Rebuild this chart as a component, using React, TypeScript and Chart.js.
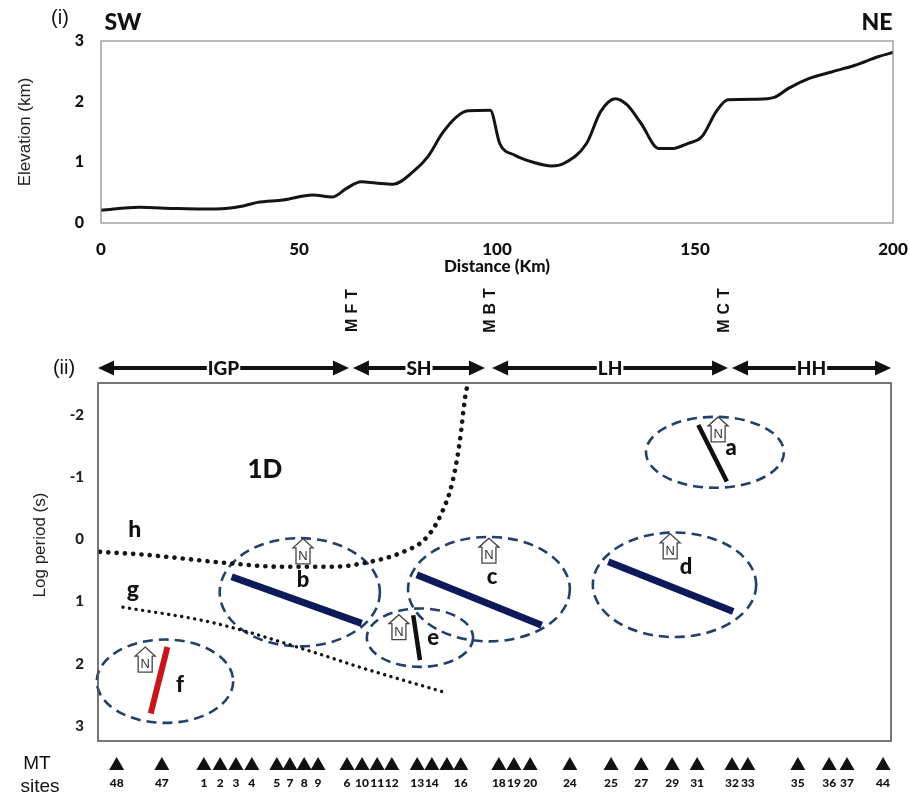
import React, { useEffect, useRef } from "react";
import { Chart, registerables } from "chart.js";
Chart.register(...registerables);

// ---------- (i) elevation profile ----------
const distanceKm = [0, 9.6, 18.4, 25.7, 31.5, 35.9, 39.5, 46, 53.4, 58.5, 62, 65.7, 69.4, 73.8, 78.9, 82.5, 86.2, 89.8, 92.7, 98.3, 100.7, 104.4, 108.7, 113.8, 116.8, 122.6, 126.2, 129.9, 132.8, 136.4, 140.8, 144.5, 148.1, 151.7, 155.4, 158.3, 165.6, 170, 173.6, 178.7, 184.5, 190.4, 196.2, 200];
const elevationKm = [0.21, 0.26, 0.24, 0.23, 0.24, 0.28, 0.34, 0.38, 0.46, 0.43, 0.57, 0.68, 0.66, 0.64, 0.85, 1.09, 1.48, 1.75, 1.85, 1.86, 1.31, 1.12, 1.01, 0.94, 0.98, 1.31, 1.84, 2.05, 1.95, 1.64, 1.23, 1.23, 1.31, 1.42, 1.84, 2.03, 2.04, 2.07, 2.22, 2.38, 2.49, 2.6, 2.74, 2.81];
const distanceTicks = [0, 50, 100, 150, 200];
const elevationTicks = [0, 1, 2, 3];

// ---------- (ii) log period section ----------
const periodTicks = [-2, -1, 0, 1, 2, 3];
const hCurveX = [0.5, 12.4, 32.5, 45.9, 59.3, 68.6, 76.2, 83.0, 87.0, 89.5, 91.3, 92.6, 93.3];
const hCurveY = [0.2, 0.25, 0.38, 0.44, 0.44, 0.36, 0.22, -0.04, -0.47, -0.95, -1.6, -2.29, -2.51];
const gCurveX = [6.3, 29.0, 54.2, 66.8, 87.0];
const gCurveY = [1.09, 1.34, 1.81, 2.07, 2.45];

const faultNames = ["MFT", "MBT", "MCT"];
const faultKm = [64.1, 98.9, 158.1];
const zoneNames = ["IGP", "SH", "LH", "HH"];
const zoneStartKm = [0, 64.3, 99.4, 159.9];
const zoneEndKm = [63.3, 97.6, 158.9, 200];

const ellipseIds = ["a", "b", "c", "d", "e", "f"];
const ellipseCx = [155.6, 50.9, 98.6, 145.4, 81.2, 16.9];
const ellipseCy = [-1.4, 0.85, 0.8, 0.73, 1.58, 2.28];
const ellipseRx = [17.4, 20.2, 20.4, 20.6, 13.4, 17.2];
const ellipseRy = [0.57, 0.87, 0.84, 0.84, 0.47, 0.67];

const strikeX1 = [151.4, 33.7, 80.4, 128.7, 79.5, 17.5];
const strikeY1 = [-1.84, 0.6, 0.57, 0.36, 1.22, 1.73];
const strikeX2 = [158.6, 66.5, 111.9, 160.2, 81.2, 13.3];
const strikeY2 = [-0.93, 1.35, 1.38, 1.16, 1.94, 2.8];

const northX = [156.4, 51.7, 98.6, 144.3, 75.9, 11.9];
const northY = [-1.76, 0.2, 0.19, 0.12, 1.42, 1.94];
const letterX = [159.7, 51.7, 99.4, 148.3, 84.5, 20.7];
const letterY = [-1.47, 0.65, 0.6, 0.44, 1.59, 2.34];

const regionText = ["1D", "h", "g"];
const regionX = [42.1, 9.3, 8.8];
const regionY = [-1.12, -0.15, 0.81];

const siteNames = ["48", "47", "1", "2", "3", "4", "5", "7", "8", "9", "6", "10", "11", "12", "13", "14", "", "16", "18", "19", "20", "24", "25", "27", "29", "31", "32", "33", "35", "36", "37", "44"];
const siteKm = [4.7, 16.1, 26.7, 30.8, 34.8, 38.8, 45.1, 48.4, 52.0, 55.5, 62.8, 66.6, 70.4, 74.1, 80.5, 84.2, 88.0, 91.5, 101.1, 104.9, 109.0, 119.0, 129.4, 137.0, 144.8, 151.1, 159.9, 163.9, 176.5, 184.4, 188.9, 198.0];

// styles (not data)
const strikeColors = ["#111111", "#0c1a5a", "#0c1a5a", "#0c1a5a", "#111111", "#c8161d"];
const strikeWidths = [4.5, 7, 7, 7, 4.5, 6];
const BOLD = "Lato, 'DejaVu Sans', sans-serif";
const SANS = "'Liberation Sans', Arial, sans-serif";
const HEAVY = "900";

const topDecor = {
  id: "topDecor",
  afterDraw(chart: any) {
    const { ctx, chartArea } = chart;
    ctx.save();
    ctx.strokeStyle = "#8a8a8a";
    ctx.lineWidth = 1.2;
    ctx.strokeRect(chartArea.left, chartArea.top, chartArea.right - chartArea.left, chartArea.bottom - chartArea.top);
    ctx.fillStyle = "#111";
    ctx.textAlign = "center";
    ctx.textBaseline = "middle";
    ctx.font = `20px ${SANS}`;
    ctx.fillText("(i)", 60, 18);
    ctx.font = `${HEAVY} 23px ${BOLD}`;
    ctx.fillText("SW", 123, 23);
    ctx.fillText("NE", 877, 23);
    ctx.restore();
  },
};

function drawNorth(ctx: CanvasRenderingContext2D, cx: number, cy: number) {
  ctx.save();
  ctx.fillStyle = "#fff";
  ctx.strokeStyle = "#444";
  ctx.lineWidth = 1.3;
  ctx.beginPath();
  ctx.moveTo(cx, cy - 13);
  ctx.lineTo(cx + 10, cy - 4);
  ctx.lineTo(cx + 7, cy - 4);
  ctx.lineTo(cx + 7, cy + 12);
  ctx.lineTo(cx - 7, cy + 12);
  ctx.lineTo(cx - 7, cy - 4);
  ctx.lineTo(cx - 10, cy - 4);
  ctx.closePath();
  ctx.fill();
  ctx.stroke();
  ctx.fillStyle = "#333";
  ctx.font = `13px ${SANS}`;
  ctx.textAlign = "center";
  ctx.textBaseline = "middle";
  ctx.fillText("N", cx, cy + 4.5);
  ctx.restore();
}

function drawHead(ctx: CanvasRenderingContext2D, tipX: number, y: number, dir: number) {
  ctx.beginPath();
  ctx.moveTo(tipX, y);
  ctx.lineTo(tipX - dir * 16, y - 7.5);
  ctx.lineTo(tipX - dir * 16, y + 7.5);
  ctx.closePath();
  ctx.fill();
}

const bottomDecor = {
  id: "bottomDecor",
  beforeDatasetsDraw(chart: any) {
    const { ctx, scales } = chart;
    const x = scales.x, y = scales.y;
    ctx.save();
    ctx.strokeStyle = "#22406c";
    ctx.lineWidth = 2.6;
    ctx.setLineDash([10, 6]);
    ellipseIds.forEach((_id, i) => {
      const cx = x.getPixelForValue(ellipseCx[i]);
      const cy = y.getPixelForValue(ellipseCy[i]);
      const rx = Math.abs(x.getPixelForValue(ellipseCx[i] + ellipseRx[i]) - cx);
      const ry = Math.abs(y.getPixelForValue(ellipseCy[i] + ellipseRy[i]) - cy);
      ctx.beginPath();
      ctx.ellipse(cx, cy, rx, ry, 0, 0, Math.PI * 2);
      ctx.stroke();
    });
    ctx.restore();
  },
  afterDatasetsDraw(chart: any) {
    const { ctx, scales } = chart;
    const x = scales.x, y = scales.y;
    ellipseIds.forEach((_id, i) => {
      drawNorth(ctx, x.getPixelForValue(northX[i]), y.getPixelForValue(northY[i]));
    });
    ctx.save();
    ctx.fillStyle = "#111";
    ctx.textAlign = "center";
    ctx.textBaseline = "middle";
    ctx.font = `${HEAVY} 22px ${BOLD}`;
    ellipseIds.forEach((id, i) => {
      ctx.fillText(id, x.getPixelForValue(letterX[i]), y.getPixelForValue(letterY[i]));
    });
    regionText.forEach((t, i) => {
      ctx.font = i === 0 ? `${HEAVY} 26px ${BOLD}` : `${HEAVY} 23px ${BOLD}`;
      ctx.fillText(t, x.getPixelForValue(regionX[i]), y.getPixelForValue(regionY[i]));
    });
    ctx.restore();
  },
  afterDraw(chart: any) {
    const { ctx, chartArea, scales } = chart;
    const x = scales.x;
    ctx.save();
    // frame
    ctx.strokeStyle = "#555";
    ctx.lineWidth = 1.6;
    ctx.strokeRect(chartArea.left, chartArea.top, chartArea.right - chartArea.left, chartArea.bottom - chartArea.top);
    // zone arrows
    const ay = 88;
    ctx.fillStyle = "#111";
    ctx.strokeStyle = "#111";
    ctx.lineWidth = 4;
    zoneNames.forEach((name, i) => {
      const x1 = x.getPixelForValue(zoneStartKm[i]);
      const x2 = x.getPixelForValue(zoneEndKm[i]);
      ctx.beginPath();
      ctx.moveTo(x1 + 10, ay);
      ctx.lineTo(x2 - 10, ay);
      ctx.stroke();
      drawHead(ctx, x1, ay, -1);
      drawHead(ctx, x2, ay, 1);
      ctx.font = `${HEAVY} 19px ${BOLD}`;
      const mid = (x1 + x2) / 2;
      const w = ctx.measureText(name).width;
      ctx.fillStyle = "#fff";
      ctx.fillRect(mid - w / 2 - 1, ay - 11, w + 2, 22);
      ctx.fillStyle = "#111";
      ctx.textAlign = "center";
      ctx.textBaseline = "middle";
      ctx.fillText(name, mid, ay + 1);
    });
    // fault labels
    faultNames.forEach((name, i) => {
      ctx.save();
      ctx.translate(x.getPixelForValue(faultKm[i]), 31);
      ctx.rotate(-Math.PI / 2);
      ctx.font = `bold 16px ${SANS}`;
      (ctx as any).letterSpacing = "5px";
      ctx.textAlign = "center";
      ctx.textBaseline = "middle";
      ctx.fillText(name, 3, 0);
      ctx.restore();
    });
    // MT sites
    ctx.fillStyle = "#111";
    siteKm.forEach((km, i) => {
      const px = x.getPixelForValue(km);
      ctx.beginPath();
      ctx.moveTo(px, 477);
      ctx.lineTo(px + 7.5, 490);
      ctx.lineTo(px - 7.5, 490);
      ctx.closePath();
      ctx.fill();
      ctx.font = `${HEAVY} 12px ${BOLD}`;
      ctx.textAlign = "center";
      ctx.textBaseline = "middle";
      ctx.fillText(siteNames[i], px, 503);
    });
    ctx.font = `19px ${SANS}`;
    ctx.textAlign = "center";
    ctx.textBaseline = "middle";
    ctx.fillText("MT", 37, 484);
    ctx.fillText("sites", 40, 507);
    ctx.font = `20px ${SANS}`;
    ctx.fillText("(ii)", 64, 88);
    // y title
    ctx.save();
    ctx.translate(40, 265);
    ctx.rotate(-Math.PI / 2);
    ctx.font = `17px ${SANS}`;
    ctx.fillStyle = "#222";
    ctx.fillText("Log period (s)", 0, 0);
    ctx.restore();
    ctx.restore();
  },
};

export default function App() {
  const topRef = useRef<HTMLCanvasElement>(null);
  const botRef = useRef<HTMLCanvasElement>(null);

  useEffect(() => {
    const top = new Chart(topRef.current as HTMLCanvasElement, {
      type: "line",
      data: {
        datasets: [
          {
            data: distanceKm.map((d, i) => ({ x: d, y: elevationKm[i] })),
            borderColor: "#141414",
            borderWidth: 3,
            pointRadius: 0,
            cubicInterpolationMode: "monotone",
            fill: false,
          } as any,
        ],
      },
      options: {
        responsive: false,
        animation: false,
        devicePixelRatio: 1,
        layout: { padding: { top: 41, right: 16, bottom: 0, left: 0 } },
        plugins: { legend: { display: false }, tooltip: { enabled: false } },
        scales: {
          x: {
            type: "linear",
            min: 0,
            max: 200,
            afterBuildTicks: (s: any) => { s.ticks = distanceTicks.map((v) => ({ value: v })); },
            grid: { display: false },
            border: { display: false },
            ticks: { color: "#111", font: { family: BOLD, weight: HEAVY, size: 17 }, padding: 8, maxRotation: 0 },
            title: { display: true, text: "Distance (Km)", color: "#111", font: { family: BOLD, weight: HEAVY, size: 17 }, padding: { top: 0, bottom: 3 } },
            afterFit: (s: any) => { s.height = 57; s.paddingLeft = 0; s.paddingRight = 0; },
          },
          y: {
            type: "linear",
            min: 0,
            max: 3,
            afterBuildTicks: (s: any) => { s.ticks = elevationTicks.map((v) => ({ value: v })); },
            grid: { display: false },
            border: { display: false },
            ticks: { color: "#111", font: { family: BOLD, weight: HEAVY, size: 16 }, padding: 9 },
            title: { display: true, text: "Elevation (km)", color: "#222", font: { family: SANS, size: 17 }, padding: { top: 15, bottom: 0 } },
            afterFit: (s: any) => { s.width = 101; s.paddingTop = 0; s.paddingBottom = 0; },
          },
        },
      } as any,
      plugins: [topDecor],
    });

    const lineDs = (xs: number[], ys: number[], extra: any) => ({
      data: xs.map((v, i) => ({ x: v, y: ys[i] })),
      pointRadius: 0,
      fill: false,
      ...extra,
    });

    const bottom = new Chart(botRef.current as HTMLCanvasElement, {
      type: "line",
      data: {
        datasets: [
          lineDs(hCurveX, hCurveY, { borderColor: "#151515", borderWidth: 4.6, borderDash: [0.1, 8.2], borderCapStyle: "round", cubicInterpolationMode: "monotone" }),
          lineDs(gCurveX, gCurveY, { borderColor: "#151515", borderWidth: 3.4, borderDash: [0.1, 6.5], borderCapStyle: "round", cubicInterpolationMode: "monotone" }),
          ...ellipseIds.map((_id, i) =>
            lineDs([strikeX1[i], strikeX2[i]], [strikeY1[i], strikeY2[i]], { borderColor: strikeColors[i], borderWidth: strikeWidths[i], borderCapStyle: "butt" })
          ),
        ] as any,
      },
      options: {
        responsive: false,
        animation: false,
        devicePixelRatio: 1,
        layout: { padding: { top: 103, right: 18, bottom: 57, left: 0 } },
        plugins: { legend: { display: false }, tooltip: { enabled: false } },
        scales: {
          x: { type: "linear", min: 0, max: 200, display: false },
          y: {
            type: "linear",
            reverse: true,
            min: -2.514,
            max: 3.241,
            afterBuildTicks: (s: any) => { s.ticks = periodTicks.map((v) => ({ value: v })); },
            grid: { display: false },
            border: { display: false },
            ticks: { color: "#222", font: { family: BOLD, weight: HEAVY, size: 15 }, padding: 6 },
            afterFit: (s: any) => { s.width = 98; s.paddingTop = 0; s.paddingBottom = 0; },
          },
        },
      } as any,
      plugins: [bottomDecor],
    });

    return () => {
      top.destroy();
      bottom.destroy();
    };
  }, []);

  return (
    <div style={{ position: "absolute", left: 0, top: 0, width: 909, height: 798, background: "#fff" }}>
      <canvas ref={topRef} width={909} height={280} style={{ position: "absolute", left: 0, top: 0, width: 909, height: 280 }} />
      <canvas ref={botRef} width={909} height={518} style={{ position: "absolute", left: 0, top: 280, width: 909, height: 518 }} />
    </div>
  );
}
